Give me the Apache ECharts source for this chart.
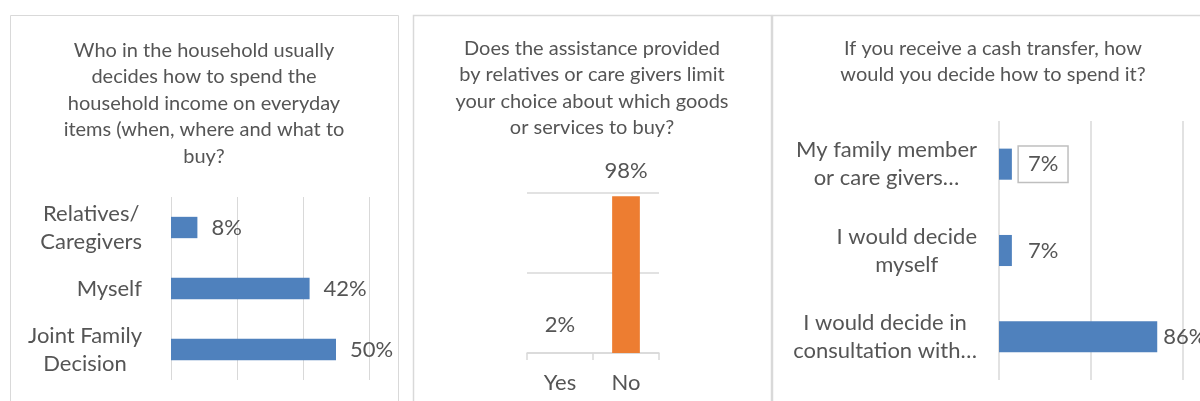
<!DOCTYPE html>
<html>
<head>
<meta charset="utf-8">
<script src="https://cdn.jsdelivr.net/npm/echarts@6/dist/echarts.min.js"></script>
<style>
  html, body { margin: 0; padding: 0; background: #fff; }
  #chart { width: 1200px; height: 401px; }
</style>
</head>
<body>
<div id="chart"></div>
<script>
// data
const householdCats = ['Relatives/\nCaregivers', 'Myself', 'Joint Family\nDecision'];
const householdVals = [8, 42, 50];
const limitCats = ['Yes', 'No'];
const limitVals = [2, 98];
const cashCats = ['My family member\nor care givers…', 'I would decide\nmyself', 'I would decide in\nconsultation with…'];
const cashVals = [7, 7, 86];

const titles = [
  'Who in the household usually\ndecides how to spend the\nhousehold income on everyday\nitems (when, where and what to\nbuy?',
  'Does the assistance provided\nby relatives or care givers limit\nyour choice about which goods\nor services to buy?',
  'If you receive a cash transfer, how\nwould you decide how to spend it?'
];

const FONT = 'Lato';
const TXT = '#555555';
const GRIDLINE = '#d9d9d9';
const BLUE = '#4f81bd';
const ORANGE = '#ed7d31';
const LABEL_SIZE = 22;

// wrapped category labels: block right aligned, lines centred
const catLabel = (margin) => ({
  margin: margin,
  align: 'right',
  formatter: v => v.split('\n').map(s => '{c|' + s + '}').join('\n'),
  rich: { c: { align: 'center', fontSize: LABEL_SIZE, lineHeight: 28, color: TXT, fontFamily: FONT } }
});

const mChart = echarts.init(document.getElementById('chart'), null, { renderer: 'canvas' });

const option = {
  animation: false,
  textStyle: { fontFamily: FONT, color: TXT },
  title: [
    { text: titles[0], left: 204, top: 37, textAlign: 'center' },
    { text: titles[1], left: 592, top: 35, textAlign: 'center' },
    { text: titles[2], left: 993, top: 35, textAlign: 'center' }
  ].map(t => Object.assign(t, {
    padding: 0,
    textStyle: { fontFamily: FONT, fontSize: 20, fontWeight: 'normal', color: TXT, lineHeight: 26.5 }
  })),
  graphic: [
    { type: 'rect', shape: { x: 10.5, y: 15.5, width: 388, height: 420 }, style: { fill: 'none', stroke: GRIDLINE, lineWidth: 1 } },
    { type: 'rect', shape: { x: 413.5, y: 15.5, width: 358, height: 420 }, style: { fill: 'none', stroke: GRIDLINE, lineWidth: 1.5 } },
    { type: 'rect', shape: { x: 772.5, y: 15.5, width: 460, height: 420 }, style: { fill: 'none', stroke: GRIDLINE, lineWidth: 1.5 } }
  ],
  grid: [
    { left: 171, width: 198, top: 197, height: 183 },
    { left: 527, width: 132, top: 193, height: 160 },
    { left: 999, width: 184, top: 121, height: 259 }
  ],
  xAxis: [
    {
      gridIndex: 0, type: 'value', min: 0, max: 60, interval: 20,
      axisLine: { show: false }, axisTick: { show: false }, axisLabel: { show: false },
      splitLine: { show: true, lineStyle: { color: GRIDLINE, width: 1 } }
    },
    {
      gridIndex: 1, type: 'category', data: limitCats,
      axisLine: { show: true, lineStyle: { color: GRIDLINE, width: 1.5 } },
      axisTick: { show: true, length: 7, lineStyle: { color: GRIDLINE, width: 1.5 } },
      axisLabel: { margin: 19, fontSize: LABEL_SIZE, color: TXT, fontFamily: FONT }
    },
    {
      gridIndex: 2, type: 'value', min: 0, max: 100, interval: 50,
      axisLine: { show: false }, axisTick: { show: false }, axisLabel: { show: false },
      splitLine: { show: true, lineStyle: { color: GRIDLINE, width: 1.5 } }
    }
  ],
  yAxis: [
    {
      gridIndex: 0, type: 'category', data: householdCats, inverse: true,
      axisLine: { show: false }, axisTick: { show: false },
      axisLabel: catLabel(29)
    },
    {
      gridIndex: 1, type: 'value', min: 0, max: 100, interval: 50,
      axisLine: { show: false }, axisTick: { show: false }, axisLabel: { show: false },
      splitLine: { show: true, lineStyle: { color: GRIDLINE, width: 1.5 } }
    },
    {
      gridIndex: 2, type: 'category', data: cashCats, inverse: true,
      axisLine: { show: false }, axisTick: { show: false },
      axisLabel: catLabel(22)
    }
  ],
  series: [
    {
      name: 'household', type: 'bar', xAxisIndex: 0, yAxisIndex: 0,
      data: householdVals, barWidth: '35%',
      itemStyle: { color: BLUE },
      label: { show: true, position: 'right', distance: 14, formatter: '{c}%', fontSize: LABEL_SIZE, color: TXT, fontFamily: FONT }
    },
    {
      name: 'limit', type: 'bar', xAxisIndex: 1, yAxisIndex: 1,
      data: limitVals.map((v, i) => ({ value: v, itemStyle: { color: i === 0 ? 'rgba(0,0,0,0)' : ORANGE } })),
      barWidth: '42%',
      label: { show: true, position: 'top', distance: 14, formatter: '{c}%', fontSize: LABEL_SIZE, color: TXT, fontFamily: FONT }
    },
    {
      name: 'cash', type: 'bar', xAxisIndex: 2, yAxisIndex: 2,
      data: cashVals.map((v, i) => {
        const item = { value: v };
        if (i === 0) item.label = { distance: 7, padding: [7, 9, 6, 9], borderColor: '#bfbfbf', borderWidth: 1.5, backgroundColor: '#fff' };
        if (i === 2) item.label = { distance: 6 };
        return item;
      }),
      barWidth: '36%',
      itemStyle: { color: BLUE },
      label: { show: true, position: 'right', distance: 16, formatter: '{c}%', fontSize: LABEL_SIZE, color: TXT, fontFamily: FONT }
    }
  ]
};

mChart.setOption(option);
</script>
</body>
</html>
